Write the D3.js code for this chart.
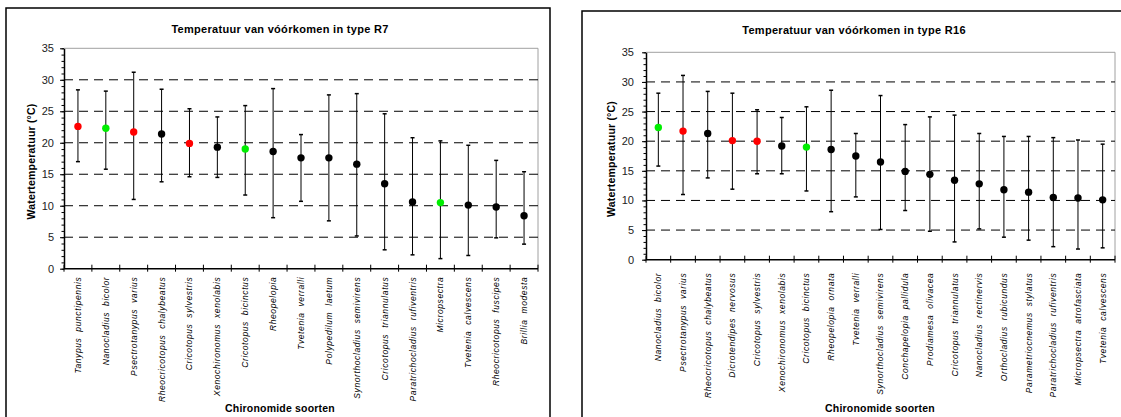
<!doctype html>
<html>
<head>
    <meta charset="UTF-8">
    <title>Temperatuur van vóórkomen</title>
    <script src="https://cdn.jsdelivr.net/npm/d3@7/dist/d3.min.js"></script>
    <style>
        body { margin: 0; background: #fff; }
        svg { display: block; font-family: "Liberation Sans", Arial, sans-serif; }
        .title { font-weight: bold; font-size: 11px; letter-spacing: 0.3px; fill: #000; }
        .ytitle, .xtitle { font-weight: bold; font-size: 10.5px; letter-spacing: 0.2px; fill: #000; }
        .yaxis text { font-size: 11px; fill: #222; }
        .xlabels text { font-size: 8.5px; font-style: italic; fill: #000; letter-spacing: 0.6px; }
    </style>
</head>
<body>
<svg class="svg1" width="1121" height="417"></svg>
<script>
    // type R7
    var r7Species = ['Tanypus  punctipennis', 'Nanocladius  bicolor', 'Psectrotanypus  varius', 'Rheocricotopus  chalybeatus',
        'Cricotopus  sylvestris', 'Xenochironomus  xenolabis', 'Cricotopus  bicinctus', 'Rheopelopia', 'Tvetenia  verralli',
        'Polypedilum  laetum', 'Synorthocladius  semivirens', 'Cricotopus  triannulatus', 'Paratrichocladius  rufiventris',
        'Micropsectra', 'Tvetenia  calvescens', 'Rheocricotopus  fuscipes', 'Brillia  modesta'];
    var r7Mean = [22.6, 22.3, 21.7, 21.4, 19.9, 19.3, 19.0, 18.6, 17.6, 17.6, 16.6, 13.5, 10.6, 10.5, 10.1, 9.8, 8.4];
    var r7Min = [17.0, 15.8, 11.0, 13.8, 14.6, 14.5, 11.7, 8.1, 10.7, 7.6, 5.2, 3.0, 2.2, 1.6, 2.1, 4.9, 3.9];
    var r7Max = [28.4, 28.2, 31.2, 28.5, 25.4, 24.1, 25.9, 28.6, 21.3, 27.6, 27.8, 24.6, 20.8, 20.3, 19.6, 17.2, 15.4];
    var r7Group = ['r', 'g', 'r', 'k', 'r', 'k', 'g', 'k', 'k', 'k', 'k', 'k', 'k', 'g', 'k', 'k', 'k'];

    // type R16
    var r16Species = ['Nanocladius  bicolor', 'Psectrotanypus  varius', 'Rheocricotopus  chalybeatus', 'Dicrotendipes  nervosus',
        'Cricotopus  sylvestris', 'Xenochironomus  xenolabis', 'Cricotopus  bicinctus', 'Rheopelopia  ornata', 'Tvetenia  verralli',
        'Synorthocladius  semivirens', 'Conchapelopia  pallidula', 'Prodiamesa  olivacea', 'Cricotopus  triannulatus',
        'Nanocladius  rectinervis', 'Orthocladius  rubicundus', 'Parametriocnemus  stylatus', 'Paratrichocladius  rufiventris',
        'Micropsectra  atrofasciata', 'Tvetenia  calvescens'];
    var r16Mean = [22.3, 21.7, 21.3, 20.1, 20.0, 19.2, 19.0, 18.6, 17.5, 16.5, 14.9, 14.4, 13.4, 12.8, 11.8, 11.4, 10.5, 10.4, 10.1];
    var r16Min = [15.8, 11.0, 13.8, 11.9, 14.5, 14.5, 11.6, 8.1, 10.6, 5.1, 8.3, 4.8, 3.0, 5.2, 3.8, 3.3, 2.2, 1.8, 2.0];
    var r16Max = [28.1, 31.1, 28.4, 28.1, 25.3, 24.0, 25.8, 28.6, 21.3, 27.7, 22.8, 24.1, 24.4, 21.3, 20.8, 20.8, 20.6, 20.2, 19.5];
    var r16Group = ['g', 'r', 'k', 'r', 'r', 'k', 'g', 'k', 'k', 'k', 'k', 'k', 'k', 'k', 'k', 'k', 'k', 'k', 'k'];

    var yTicks = [0, 5, 10, 15, 20, 25, 30, 35];

    var dotColor = d3.scaleOrdinal().domain(['r', 'g', 'k']).range(['#ff0000', '#00ee00', '#000000']);

    var svg = d3.select('.svg1');

    function drawChart(opt) {
        var g = svg.append('g');

        // outer frame
        g.append('rect')
            .attr('x', opt.box[0]).attr('y', opt.box[1])
            .attr('width', opt.box[2]).attr('height', opt.box[3])
            .attr('fill', 'none').attr('stroke', '#000').attr('stroke-width', 1.5);

        var x = d3.scaleBand().domain(opt.species).range([opt.left, opt.right]);
        var y = d3.scaleLinear().domain([0, 35]).range([opt.bottom, opt.top]);

        // grey frame of plot area (top and right)
        g.append('path')
            .attr('d', 'M' + opt.left + ',' + y(35) + 'H' + opt.right + 'V' + y(0))
            .attr('fill', 'none').attr('stroke', '#a0a0a0').attr('stroke-width', 1);

        // dashed gridlines
        g.append('g').selectAll('line')
            .data(yTicks.filter(function (d) { return d > 0 && d < 35; }))
            .enter().append('line')
            .attr('x1', opt.left).attr('x2', opt.right)
            .attr('y1', function (d) { return y(d); })
            .attr('y2', function (d) { return y(d); })
            .attr('stroke', '#000').attr('stroke-width', 1)
            .attr('stroke-dasharray', '9,6');

        // minor y ticks
        g.append('g')
            .attr('transform', 'translate(' + opt.left + ',0)')
            .call(d3.axisLeft(y).ticks(35).tickSize(2.5).tickFormat(''))
            .call(function (s) { s.select('.domain').remove(); })
            .selectAll('line').attr('stroke', '#000');

        // major y axis
        var yAxis = g.append('g').attr('class', 'yaxis')
            .attr('transform', 'translate(' + opt.left + ',0)')
            .call(d3.axisLeft(y).tickValues(yTicks).tickSize(4).tickPadding(opt.pad).tickSizeOuter(0));
        yAxis.select('.domain').attr('stroke', '#000').attr('stroke-width', 1.5);
        yAxis.selectAll('line').attr('stroke', '#000');
        yAxis.selectAll('text').attr('font-family', null).attr('font-size', null);

        // x axis line and category boundary ticks
        g.append('line')
            .attr('x1', opt.left).attr('x2', opt.right)
            .attr('y1', y(0)).attr('y2', y(0))
            .attr('stroke', '#000').attr('stroke-width', 1.5);
        var bounds = opt.species.map(function (d) { return x(d); }).concat([opt.right]);
        g.append('g').selectAll('line').data(bounds).enter().append('line')
            .attr('x1', function (d) { return d; }).attr('x2', function (d) { return d; })
            .attr('y1', y(0) - 4).attr('y2', y(0) + 3)
            .attr('stroke', '#000').attr('stroke-width', 1);

        // species labels
        var xAxis = g.append('g').attr('class', 'xlabels')
            .attr('transform', 'translate(0,' + y(0) + ')')
            .call(d3.axisBottom(x).tickSize(0).tickPadding(0));
        xAxis.select('.domain').remove();
        xAxis.selectAll('text')
            .attr('font-family', null).attr('font-size', null)
            .attr('transform', 'rotate(-90)')
            .attr('x', -opt.labelGap).attr('y', 0).attr('dy', '0.35em')
            .style('text-anchor', 'end')
            .attr('xml:space', 'preserve');

        var rows = opt.species.map(function (d, i) {
            return { name: d, mean: opt.mean[i], lo: opt.min[i], hi: opt.max[i], grp: opt.group[i] };
        });
        var cx = function (d) { return x(d.name) + x.bandwidth() / 2; };

        // error bars
        var bars = g.append('g').selectAll('g').data(rows).enter().append('g');
        bars.append('line')
            .attr('x1', cx).attr('x2', cx)
            .attr('y1', function (d) { return y(d.lo); })
            .attr('y2', function (d) { return y(d.hi); })
            .attr('stroke', '#000').attr('stroke-width', 1);
        bars.append('line')
            .attr('x1', function (d) { return cx(d) - 2; }).attr('x2', function (d) { return cx(d) + 2; })
            .attr('y1', function (d) { return y(d.lo); }).attr('y2', function (d) { return y(d.lo); })
            .attr('stroke', '#000').attr('stroke-width', 1.5);
        bars.append('line')
            .attr('x1', function (d) { return cx(d) - 2; }).attr('x2', function (d) { return cx(d) + 2; })
            .attr('y1', function (d) { return y(d.hi); }).attr('y2', function (d) { return y(d.hi); })
            .attr('stroke', '#000').attr('stroke-width', 1.5);

        // mean points
        g.append('g').selectAll('circle').data(rows).enter().append('circle')
            .attr('cx', cx)
            .attr('cy', function (d) { return y(d.mean); })
            .attr('r', 3.7)
            .attr('fill', function (d) { return dotColor(d.grp); });

        // titles
        g.append('text').attr('class', 'title')
            .attr('x', opt.titleX).attr('y', opt.titleY)
            .attr('text-anchor', 'middle').text(opt.title);
        g.append('text').attr('class', 'ytitle')
            .attr('transform', 'translate(' + opt.yTitleX + ',' + ((opt.top + opt.bottom) / 2 + 3) + ') rotate(-90)')
            .attr('text-anchor', 'middle').text('Watertemperatuur (°C)');
        g.append('text').attr('class', 'xtitle')
            .attr('x', opt.xTitleX).attr('y', 412)
            .attr('text-anchor', 'middle').text('Chironomide soorten');
    }

    drawChart({
        species: r7Species, mean: r7Mean, min: r7Min, max: r7Max, group: r7Group,
        box: [6, 8, 544, 420], left: 64, right: 538, top: 48.3, bottom: 268.7,
        pad: 6, labelGap: 8, title: 'Temperatuur van vóórkomen in type R7',
        titleX: 280, titleY: 33, yTitleX: 35, xTitleX: 280
    });

    drawChart({
        species: r16Species, mean: r16Mean, min: r16Min, max: r16Max, group: r16Group,
        box: [582, 11, 545, 420], left: 646, right: 1115, top: 52.3, bottom: 259.7,
        pad: 8, labelGap: 13, title: 'Temperatuur van vóórkomen in type R16',
        titleX: 854, titleY: 34, yTitleX: 615, xTitleX: 880
    });
</script>
</body>
</html>
